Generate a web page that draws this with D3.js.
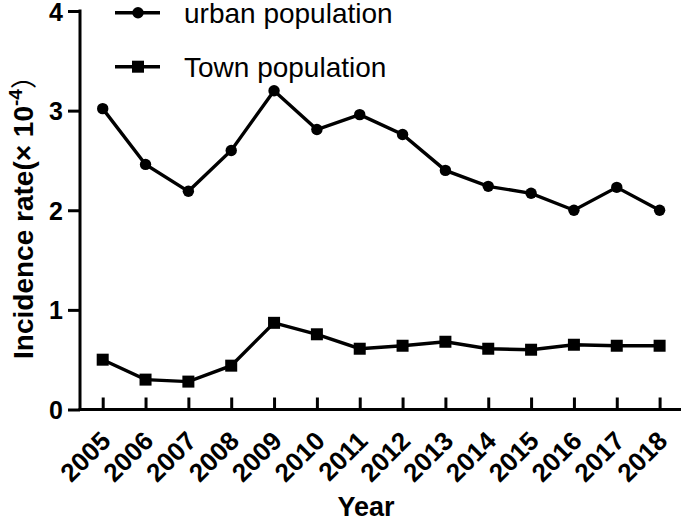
<!DOCTYPE html>
<html><head><meta charset="utf-8">
<script src="https://cdn.jsdelivr.net/npm/d3@7"></script>
<style>
html,body{margin:0;padding:0;background:#fff;}
text{font-family:"Liberation Sans",Arial,sans-serif;fill:#000;}
</style></head>
<body>
<svg id="c" width="685" height="519"></svg>
<script>
const years = [2005,2006,2007,2008,2009,2010,2011,2012,2013,2014,2015,2016,2017,2018];
const urban = [3.02,2.46,2.19,2.60,3.20,2.81,2.96,2.76,2.40,2.24,2.17,2.00,2.23,2.00];
const town  = [0.50,0.30,0.28,0.44,0.87,0.755,0.61,0.64,0.68,0.61,0.60,0.65,0.64,0.64];
const yTicks = [0,1,2,3,4];
const seriesNames = ["urban population","Town population"];

const svg = d3.select("#c");
const x = d3.scaleLinear().domain([2005,2018]).range([102.7,659.6]);
const y = d3.scaleLinear().domain([0,4]).range([409.5,11]);

// Y axis
const yAxis = d3.axisLeft(y).tickValues(yTicks).tickFormat(d3.format("d")).tickSize(12).tickPadding(5);
const gy = svg.append("g").attr("transform","translate(80,0)").call(yAxis);
gy.select(".domain").attr("stroke","#000").attr("stroke-width",3).attr("d","M0,"+(y(4)-1.5)+"V"+(y(0)+1.5));
gy.selectAll(".tick line").attr("stroke","#000").attr("stroke-width",3);
gy.selectAll(".tick text").attr("font-size",25).attr("font-weight","bold")
  .attr("font-family","'Liberation Sans',Arial,sans-serif").attr("dy","0.36em");

// X axis
const xAxis = d3.axisBottom(x).tickValues(years).tickFormat(d3.format("d")).tickSize(-12).tickPadding(0);
const gx = svg.append("g").attr("transform","translate(0,409.5)").call(xAxis);
gx.select(".domain").attr("stroke","#000").attr("stroke-width",3).attr("d","M78.5,0H681");
gx.selectAll(".tick line").attr("stroke","#000").attr("stroke-width",3);
gx.selectAll(".tick text").attr("font-size",26).attr("font-weight","bold")
  .attr("font-family","'Liberation Sans',Arial,sans-serif")
  .attr("text-anchor","end").attr("y",0).attr("dy",0)
  .attr("transform","translate(9,33) rotate(-45)");

// lines
const line = d3.line().x((d,i)=>x(years[i])).y(d=>y(d));
svg.append("path").datum(urban).attr("d",line).attr("fill","none").attr("stroke","#000").attr("stroke-width",3.4);
svg.append("path").datum(town).attr("d",line).attr("fill","none").attr("stroke","#000").attr("stroke-width",3.4);
svg.selectAll("circle.u").data(urban).enter().append("circle").attr("class","u")
  .attr("cx",(d,i)=>x(years[i])).attr("cy",d=>y(d)).attr("r",5.7).attr("fill","#000");
svg.selectAll("rect.t").data(town).enter().append("rect").attr("class","t")
  .attr("x",(d,i)=>x(years[i])-6).attr("y",d=>y(d)-6).attr("width",12).attr("height",12).attr("fill","#000");

// legend
const lg = svg.append("g");
const rows = [12.7, 66.7];
rows.forEach((ly,i)=>{
  lg.append("line").attr("x1",115).attr("x2",160).attr("y1",ly).attr("y2",ly).attr("stroke","#000").attr("stroke-width",3.4);
  if(i===0) lg.append("circle").attr("cx",138).attr("cy",ly).attr("r",5.7).attr("fill","#000");
  else lg.append("rect").attr("x",132).attr("y",ly-6).attr("width",12).attr("height",12).attr("fill","#000");
  lg.append("text").attr("x",184).attr("y",ly+10).attr("font-size",28).text(seriesNames[i]);
});

// axis titles
const yt = svg.append("text").attr("transform","translate(33,211) rotate(-90)")
  .attr("text-anchor","middle").attr("font-size",28).attr("font-weight","bold");
yt.append("tspan").text("Incidence rate(× 10");
yt.append("tspan").attr("dy",-11).attr("font-size",19).text("-4");
yt.append("tspan").attr("dy",11).attr("font-weight","normal").attr("font-size",26).attr("font-family","'Noto Sans CJK SC',sans-serif").text("）");

svg.append("text").attr("x",366).attr("y",516).attr("text-anchor","middle")
  .attr("font-size",27).attr("font-weight","bold").text("Year");
</script>
</body></html>
